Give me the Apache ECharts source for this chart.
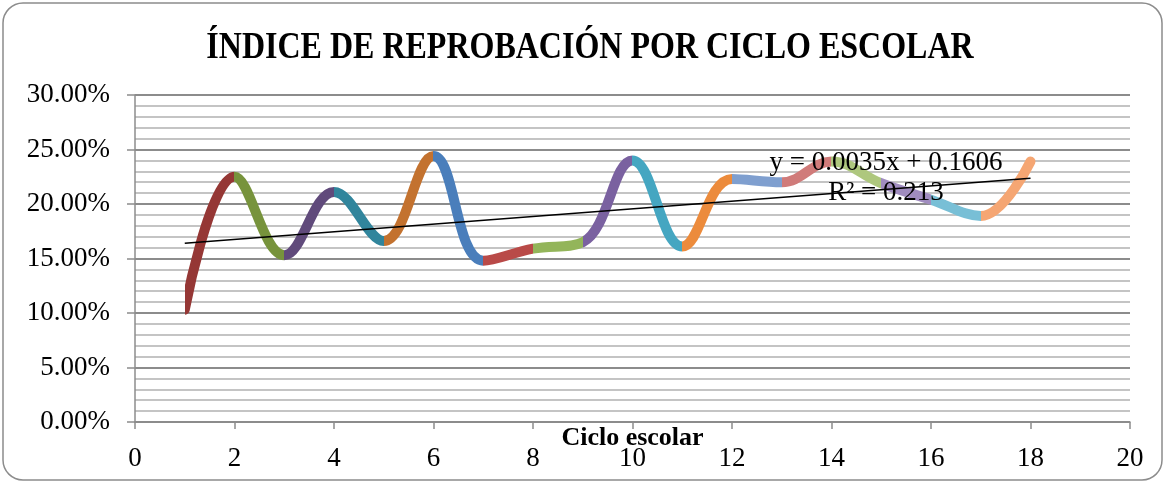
<!DOCTYPE html>
<html>
<head>
<meta charset="utf-8">
<script src="https://cdn.jsdelivr.net/npm/echarts@6/dist/echarts.min.js"></script>
<style>
  html, body { margin: 0; padding: 0; background: #fff; }
  #main { width: 1166px; height: 482px; }
</style>
</head>
<body>
<div id="main"></div>
<script>
// ciclos escolares
const ciclos = [1, 2, 3, 4, 5, 6, 7, 8, 9, 10, 11, 12, 13, 14, 15, 16, 17, 18]
// indice de reprobacion
const indice = [0.103, 0.225, 0.153, 0.211, 0.166, 0.244, 0.148, 0.159, 0.165,
    0.240, 0.161, 0.223, 0.220, 0.239, 0.219, 0.204, 0.189, 0.239]
// colores de cada tramo (estilo Excel)
const colores = ['#953735', '#77933C', '#604A7B', '#31859C', '#C3722F', '#4A7EBB',
    '#B94A48', '#93B55A', '#7A61A0', '#45A6C1', '#EC8B3C', '#7F9FCF',
    '#D07B7A', '#AEC77E', '#A08CBF', '#78BFD6', '#F5A673']
// linea de tendencia
const pendiente = 0.0035
const intercepto = 0.1606
const r2 = 0.213

const serif = '"Liberation Serif", "DejaVu Serif", serif'

let puntos = ciclos.map((c, i) => [c, indice[i]])
let tendencia = [ciclos[0], ciclos[ciclos.length - 1]].map(x => [x, pendiente * x + intercepto])

let piezas = colores.map((c, i) => ({
    gte: ciclos[i],
    lt: i === colores.length - 1 ? 100 : ciclos[i + 1],
    color: c
}))

let option = {
    animation: false,
    grid: { left: 135, right: 36, top: 95, bottom: 60, outerBoundsMode: 'none', containLabel: false },
    xAxis: {
        type: 'value',
        min: 0,
        max: 20,
        interval: 2,
        name: 'Ciclo escolar',
        nameLocation: 'middle',
        nameGap: 3,
        nameMoveOverlap: false,
        nameTextStyle: { fontFamily: serif, fontSize: 26, fontWeight: 'bold', color: '#000' },
        axisLine: { lineStyle: { color: '#8C8C8C', width: 1.5 } },
        axisTick: { show: true, length: 7, lineStyle: { color: '#8C8C8C', width: 1.5 } },
        axisLabel: { fontFamily: serif, fontSize: 27, color: '#000', margin: 23 },
        splitLine: { show: false }
    },
    yAxis: {
        type: 'value',
        min: 0,
        max: 0.3,
        interval: 0.05,
        axisLine: { show: true, lineStyle: { color: '#8C8C8C', width: 1.5 } },
        axisTick: { show: true, length: 8, lineStyle: { color: '#8C8C8C', width: 1.5 } },
        axisLabel: {
            fontFamily: serif, fontSize: 27, color: '#000', margin: 25,
            formatter: v => (v * 100).toFixed(2) + '%'
        },
        splitLine: { lineStyle: { color: '#8C8C8C', width: 2 } },
        minorTick: { show: false, splitNumber: 5 },
        minorSplitLine: { show: true, lineStyle: { color: '#C4C4C4', width: 2 } }
    },
    visualMap: {
        show: false,
        type: 'piecewise',
        dimension: 0,
        seriesIndex: 0,
        pieces: piezas
    },
    series: [
        {
            type: 'line',
            data: puntos,
            smooth: 0.4,
            showSymbol: false,
            lineStyle: { width: 10, cap: 'round', join: 'round' },
            z: 3
        },
        {
            type: 'line',
            data: tendencia,
            showSymbol: false,
            lineStyle: { color: '#000', width: 1.5 },
            z: 4
        }
    ],
    graphic: [
        {
            type: 'rect',
            shape: { x: 3, y: 3, width: 1159, height: 477, r: 20 },
            style: { fill: 'none', stroke: '#8C8C8C', lineWidth: 1.5 },
            silent: true
        },
        // titulo (comprimido como en Excel)
        {
            type: 'text',
            x: 590,
            y: 48,
            scaleX: 0.865,
            z: 10,
            style: {
                text: 'ÍNDICE DE REPROBACIÓN POR CICLO ESCOLAR',
                font: 'bold 37px ' + serif,
                fill: '#000',
                align: 'center',
                verticalAlign: 'middle'
            }
        },
        {
            type: 'text',
            x: 886,
            y: 163,
            z: 10,
            style: {
                text: 'y = ' + pendiente + 'x + ' + intercepto,
                font: '27px ' + serif,
                fill: '#000',
                align: 'center',
                verticalAlign: 'middle'
            }
        },
        {
            type: 'text',
            x: 886,
            y: 193,
            z: 10,
            style: {
                text: 'R² = ' + r2,
                font: '27px ' + serif,
                fill: '#000',
                align: 'center',
                verticalAlign: 'middle'
            }
        }
    ]
}

let myChart = echarts.init(document.getElementById('main'))
myChart.setOption(option)
window.addEventListener('resize', function () {
    myChart.resize()
})
</script>
</body>
</html>
